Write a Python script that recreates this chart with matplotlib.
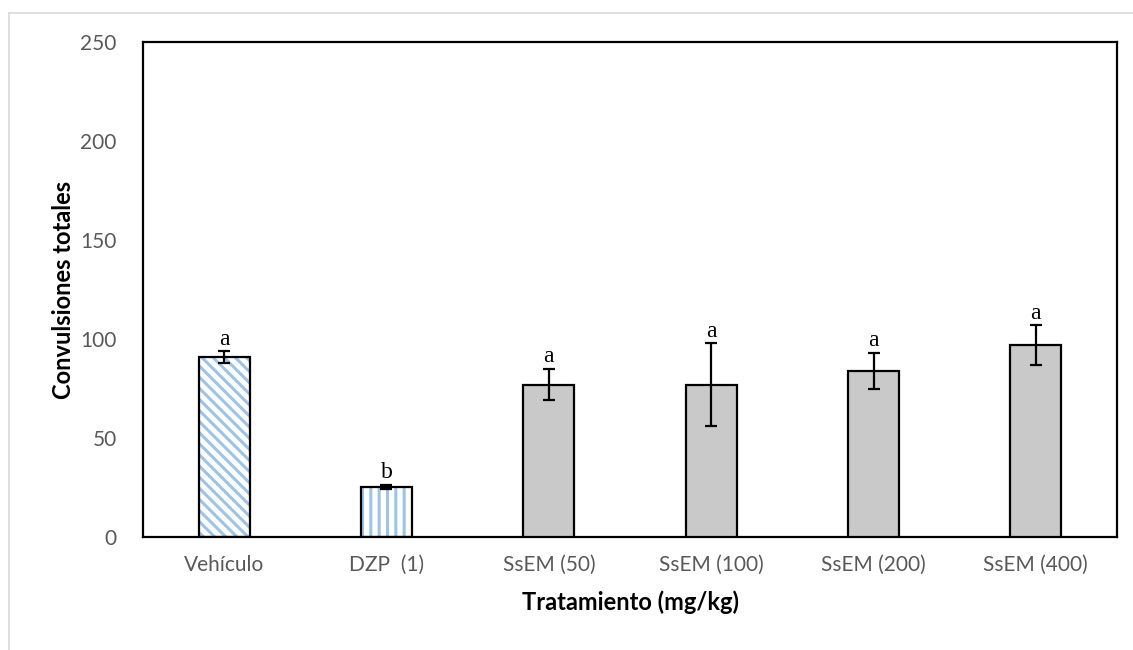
import matplotlib
matplotlib.use("Agg")
import matplotlib.pyplot as plt
from matplotlib.lines import Line2D
import numpy as np

# data
categories = ["Vehículo", "DZP  (1)", "SsEM (50)", "SsEM (100)", "SsEM (200)", "SsEM (400)"]
means = [91, 25.5, 77, 77, 84, 97]
errors = [3, 1, 8, 21, 9, 10]
letters = ["a", "b", "a", "a", "a", "a"]

plt.rcParams['font.family'] = ['Lato', 'DejaVu Sans']
plt.rcParams['hatch.linewidth'] = 2.2

blue = "#9dc3e6"
gray = "#c9c9c9"

fig = plt.figure(figsize=(11.33, 6.5), dpi=100)
ax = fig.add_axes([0.1262, 0.1738, 0.8597, 0.7616])

x = np.arange(len(categories))
w = 0.315

# patterned bars (hatch layer first, outline on top)
hatches = ["\\\\\\", "||"]
for i in range(2):
    ax.bar(x[i], means[i], w, color="white", edgecolor=blue, hatch=hatches[i], linewidth=0, zorder=2)
    ax.bar(x[i], means[i], w, fill=False, edgecolor="black", linewidth=1.6, zorder=3)

# plain grey bars
ax.bar(x[2:], means[2:], w, color=gray, edgecolor="black", linewidth=1.6, zorder=3)

ax.errorbar(x, means, yerr=errors, fmt="none", ecolor="black", elinewidth=1.6,
            capsize=4, capthick=1.6, zorder=4)

for i in range(len(x)):
    ax.annotate(letters[i], (x[i], means[i] + errors[i]), xytext=(0, 1), textcoords="offset points",
                ha="center", va="bottom", fontsize=17, family="Liberation Serif", color="black")

ax.set_xlim(-0.5, len(x) - 0.5)
ax.set_ylim(0, 250)
ax.set_yticks([0, 50, 100, 150, 200, 250])
ax.set_xticks(x)
ax.set_xticklabels(categories)
ax.tick_params(axis="both", length=0, labelsize=15, labelcolor="#595959")
ax.tick_params(axis="y", pad=19)
ax.tick_params(axis="x", pad=13)

for s in ax.spines.values():
    s.set_linewidth(1.6)
    s.set_color("black")

ax.set_xlabel("Tratamiento (mg/kg)", fontsize=17, fontweight="bold", labelpad=11)
ax.set_ylabel("Convulsiones totales", fontsize=17, fontweight="bold", labelpad=4)

# light frame around the picture
fig.add_artist(Line2D([9 / 1133, 1.0], [1 - 13 / 650, 1 - 13 / 650], color="#d9d9d9", linewidth=1.2))
fig.add_artist(Line2D([9 / 1133, 9 / 1133], [0, 1 - 13 / 650], color="#d9d9d9", linewidth=1.2))

fig.savefig("out.png", dpi=100)
